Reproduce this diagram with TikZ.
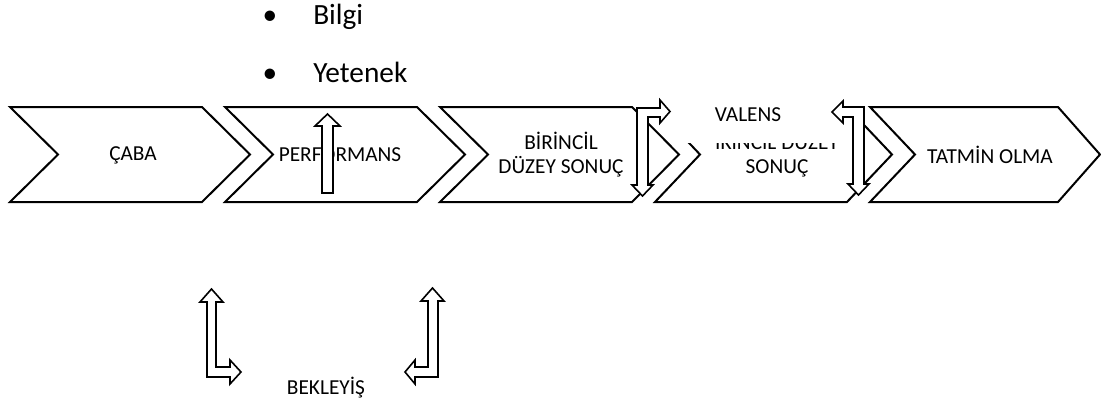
\documentclass[tikz,border=0pt]{standalone}
\usepackage{fontspec}
\setmainfont{Carlito}

\begin{document}
\begin{tikzpicture}[x=0.75pt,y=0.75pt,yscale=-1,xscale=1,
    chevron/.style={draw, line width=1.5pt, fill=white},
    hollow/.style={draw, line width=1.2pt, fill=white},
    lbl/.style={inner sep=0pt, align=center, font=\fontsize{16}{18}\selectfont},
    bul/.style={inner sep=0pt, anchor=base west, font=\fontsize{22}{26}\selectfont}]
    \useasboundingbox (0,0) rectangle (1101,407);
    % fourth step first, the VALENS box lies over its top
    \draw[chevron] (655,107) -- (847,107) -- (892,154.5) -- (847,202) -- (655,202) -- (700,154.5) -- cycle;
    \node[lbl] (ikincil) at (777,155) {İKİNCİL DÜZEY\\SONUÇ};
    \fill[white] (652,98) rectangle (864,143);
    \node[lbl] (valens) at (748,115) {VALENS};
    % the other steps
    \draw[chevron] (10,107) -- (202,107) -- (250,154.5) -- (202,202) -- (10,202) -- (58,154.5) -- cycle;
    \draw[chevron] (225,107) -- (417,107) -- (465,154.5) -- (417,202) -- (225,202) -- (273,154.5) -- cycle;
    \draw[chevron] (440,107) -- (632,107) -- (679,154.5) -- (632,202) -- (440,202) -- (488,154.5) -- cycle;
    \draw[chevron] (870,107) -- (1058,107) -- (1100,154.5) -- (1058,202) -- (870,202) -- (915,154.5) -- cycle;
    \node[lbl] (caba) at (133,155) {ÇABA};
    \node[lbl] (perf) at (340,155) {PERFORMANS};
    \node[lbl] (birincil) at (561,155) {BİRİNCİL\\DÜZEY SONUÇ};
    \node[lbl] (tatmin) at (990,155) {TATMİN OLMA};
    \node[lbl] (bekleyis) at (326,388) {BEKLEYİŞ};
    % list above the steps
    \node[bul, anchor=base] (dot1) at (270,25) {•};
    \node[bul] (bilgi) at (313,25) {Bilgi};
    \node[bul, anchor=base] (dot2) at (270,82) {•};
    \node[bul] (yetenek) at (313,82) {Yetenek};
    % block arrows
    \draw[hollow] (322,193) -- (322,126) -- (315,126) -- (327.5,114) -- (340,126) -- (333,126) -- (333,193) -- cycle;
    \draw[hollow] (637,185) -- (637,108) -- (660,108) -- (660,100) -- (670,111.5) -- (660,123) -- (660,117) -- (648,117) -- (648,185) -- (653,185) -- (642.5,196) -- (632,185) -- cycle;
    \draw[hollow] (864,184) -- (864,107) -- (843,107) -- (843,101) -- (832,112) -- (843,123) -- (843,117) -- (853,117) -- (853,184) -- (848,184) -- (858.5,195) -- (869,184) -- cycle;
    \draw[hollow] (207,302) -- (207,377) -- (230,377) -- (230,384) -- (241,372) -- (230,360) -- (230,367) -- (216,367) -- (216,302) -- (223,302) -- (211.5,289) -- (200,302) -- cycle;
    \draw[hollow] (438,301) -- (438,377) -- (415,377) -- (415,384) -- (405,372) -- (415,360) -- (415,367) -- (428,367) -- (428,301) -- (421,301) -- (432.5,288) -- (444,301) -- cycle;
\end{tikzpicture}
\end{document}
